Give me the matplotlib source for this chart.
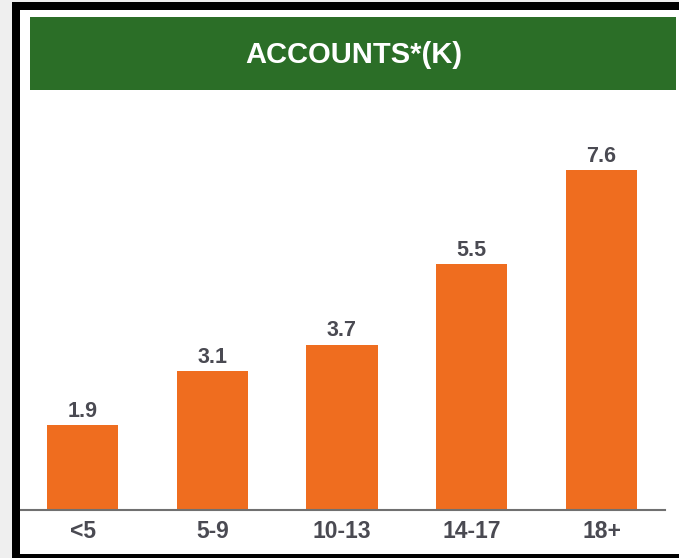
import matplotlib.pyplot as plt
from matplotlib.patches import Rectangle

# chart data
categories = ['<5', '5-9', '10-13', '14-17', '18+']
accounts = [1.9, 3.1, 3.7, 5.5, 7.6]
labels = ['1.9', '3.1', '3.7', '5.5', '7.6']

W, H = 679, 558
fig = plt.figure(figsize=(W / 100, H / 100), dpi=100)
fig.patch.set_facecolor('#efefef')

def px_rect(x0, y0, x1, y1, color, z):
    # rectangle given in pixel coords (top-left origin)
    fig.add_artist(Rectangle((x0 / W, 1 - y1 / H), (x1 - x0) / W, (y1 - y0) / H,
                             transform=fig.transFigure, facecolor=color,
                             edgecolor='none', zorder=z))

# black frame, white panel, green header
px_rect(12, 2, 679, 558, 'black', -2)
px_rect(20, 10, 679, 554, 'white', -1.5)
px_rect(30, 17, 676, 90, '#2b6e27', -1)
fig.text(354 / W, 1 - 55 / H, 'ACCOUNTS*(K)', color='white', fontsize=21,
         fontweight='bold', family='Liberation Sans', ha='center', va='center')

ax = fig.add_axes([21 / W, (H - 510) / H, (665 - 21) / W, (510 - 100) / H])
ax.set_zorder(1)
ax.set_facecolor('none')
x = range(len(categories))
ax.bar(x, accounts, width=0.55, color='#ef6d1f', zorder=2)
for xi, v, lab in zip(x, accounts, labels):
    ax.annotate(lab, (xi, v), xytext=(0, 2.5), textcoords='offset points',
                ha='center', va='bottom', fontsize=15.5, fontweight='bold',
                color='#4a4a52', family='Liberation Sans')

ax.set_xlim(-0.475, 4.49)
ax.set_ylim(0, 9.17)
ax.set_xticks(list(x))
ax.set_xticklabels(categories, fontsize=16.5, fontweight='bold', color='#4a4a52',
                   family='Liberation Sans')
ax.tick_params(axis='x', length=0, pad=7.5)
ax.set_yticks([])
for s in ['top', 'right', 'left']:
    ax.spines[s].set_visible(False)
ax.spines['bottom'].set_color('#707070')
ax.spines['bottom'].set_linewidth(1.5)
ax.spines['bottom'].set_zorder(3)

plt.savefig('out.png', dpi=100)
